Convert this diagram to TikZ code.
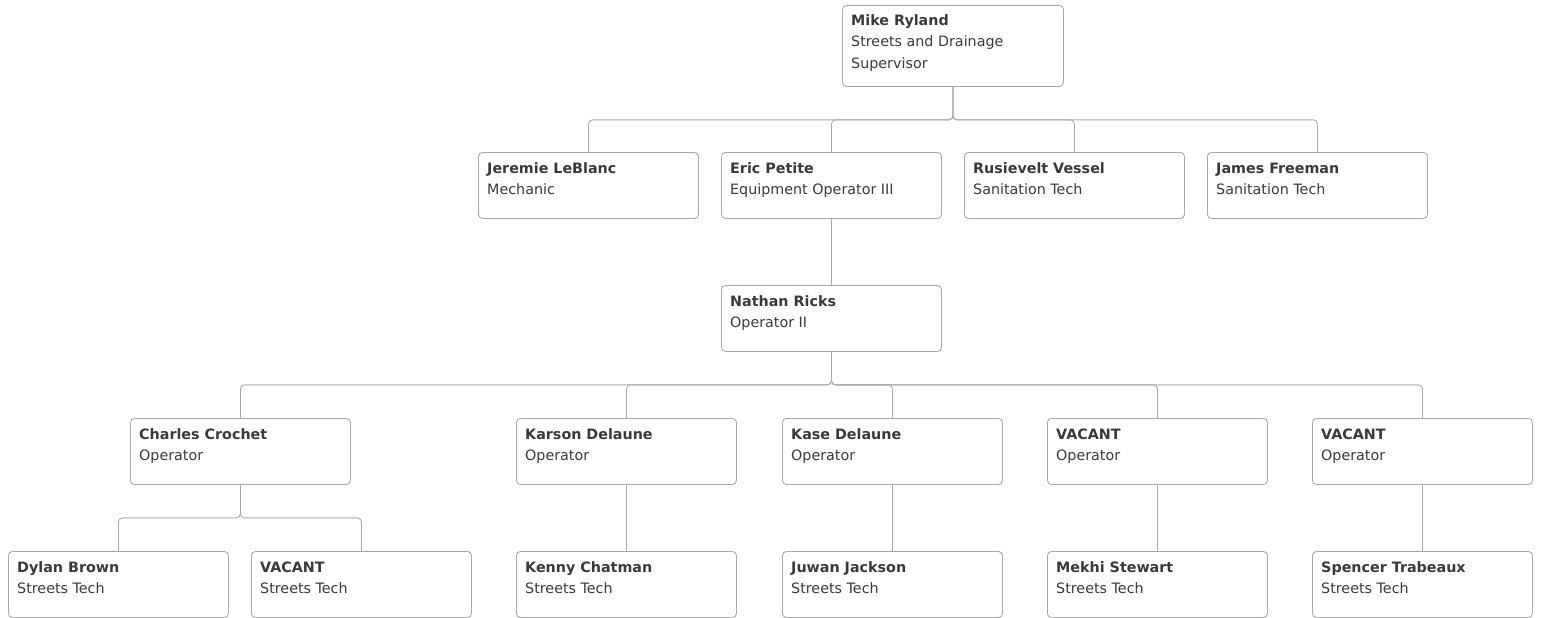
\documentclass[tikz,border=0pt]{standalone}
\usepackage{fontspec}
\setmainfont{DejaVu Sans}
\usetikzlibrary{calc}
\definecolor{boxline}{HTML}{AAAAAA}
\definecolor{txt}{HTML}{3A3A3A}
\tikzset{
  pbox/.style={draw=boxline, line width=0.9pt, rounded corners=4pt, fill=white,
    minimum width=220pt, minimum height=66pt, anchor=north west, inner sep=0pt},
  pname/.style={anchor=base west, inner sep=0pt, text=txt, font=\fontsize{14.3}{17}\selectfont\bfseries},
  prole/.style={anchor=base west, inner sep=0pt, text=txt, font=\fontsize{14.3}{17}\selectfont},
  conn/.style={draw=boxline, line width=0.9pt, rounded corners=4pt},
}
\newcommand\pbox[5]{%
  \node[pbox] (#1) at (#2,#3) {};
  \node[pname] (#1n) at ($(#1.north west)+(9,21)$) {#4};
  \node[prole] (#1r) at ($(#1.north west)+(9,42)$) {#5};
}
\begin{document}
\begin{tikzpicture}[x=1pt,y=-1pt]
\useasboundingbox (0,0) rectangle (1542,618);
% top
\node[pbox, minimum width=221pt, minimum height=81pt] (mike) at (842,5) {};
\node[pname] (miken) at ($(mike.north west)+(9,21)$) {Mike Ryland};
\node[prole] (miker1) at ($(mike.north west)+(9,42)$) {Streets and Drainage};
\node[prole] (miker2) at ($(mike.north west)+(9,63)$) {Supervisor};
% row 2
\pbox{jer}{478}{152}{Jeremie LeBlanc}{Mechanic}
\pbox{eric}{721}{152}{Eric Petite}{Equipment Operator III}
\pbox{rus}{964}{152}{Rusievelt Vessel}{Sanitation Tech}
\pbox{jam}{1207}{152}{James Freeman}{Sanitation Tech}
% nathan
\pbox{nat}{721}{285}{Nathan Ricks}{Operator II}
% row 3
\pbox{cha}{130}{418}{Charles Crochet}{Operator}
\pbox{kar}{516}{418}{Karson Delaune}{Operator}
\pbox{kas}{782}{418}{Kase Delaune}{Operator}
\pbox{vaa}{1047}{418}{VACANT}{Operator}
\pbox{vab}{1312}{418}{VACANT}{Operator}
% row 4
\pbox{dyl}{8}{551}{Dylan Brown}{Streets Tech}
\pbox{vac}{251}{551}{VACANT}{Streets Tech}
\pbox{ken}{516}{551}{Kenny Chatman}{Streets Tech}
\pbox{juw}{782}{551}{Juwan Jackson}{Streets Tech}
\pbox{mek}{1047}{551}{Mekhi Stewart}{Streets Tech}
\pbox{spe}{1312}{551}{Spencer Trabeaux}{Streets Tech}
% connectors
\foreach \c in {jer,eric,rus,jam}
  \draw[conn] (mike.south) -- ++(0,33) -| (\c.north);
\draw[conn] (eric.south) -- (nat.north);
\foreach \c in {cha,kar,kas,vaa,vab}
  \draw[conn] (nat.south) -- ++(0,33) -| (\c.north);
\foreach \c in {dyl,vac}
  \draw[conn] (cha.south) -- ++(0,33) -| (\c.north);
\draw[conn] (kar.south) -- (ken.north);
\draw[conn] (kas.south) -- (juw.north);
\draw[conn] (vaa.south) -- (mek.north);
\draw[conn] (vab.south) -- (spe.north);
\end{tikzpicture}
\end{document}
